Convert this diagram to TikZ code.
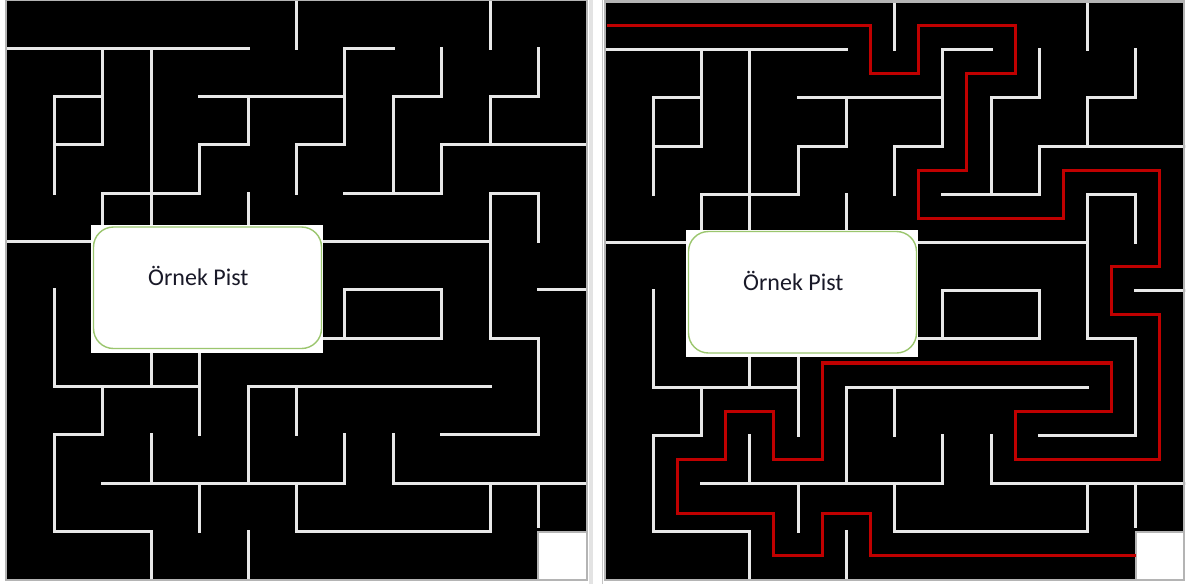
\documentclass[tikz,border=0pt]{standalone}
\usepackage{fontspec}
\newfontfamily\calib{Carlito}
\definecolor{wallc}{RGB}{232,232,232}
\definecolor{bordc}{RGB}{180,180,180}
\definecolor{pathred}{RGB}{192,0,0}
\definecolor{boxgreen}{RGB}{155,198,110}
\definecolor{textc}{RGB}{25,25,40}
\tikzset{
  wall/.style={draw=wallc, line width=3pt, line cap=rect},
  mazeborder/.style={draw=bordc, line width=2.6pt},
  goalcell/.style={fill=white, draw=bordc, line width=2pt},
  redpath/.style={draw=pathred, line width=3.2pt, line join=miter},
  boxback/.style={fill=white},
  boxframe/.style={draw=boxgreen, line width=1.4pt, rounded corners=20pt},
  boxtext/.style={font=\calib\fontsize{24}{28}\selectfont, text=textc, inner sep=0pt, anchor=base west}
}
\newcommand\drawmaze{%
  \fill[black] (0,0) rectangle (12,12);
  \fill[white] (11,11) rectangle (12,12);
  \foreach \r/\a/\b in {1/0/5, 1/7/8, 2/1/2, 2/4/7, 2/8/9, 2/10/11, 3/1/2, 3/4/5, 3/6/7, 3/9/12,
      4/2/4, 4/7/9, 4/10/11, 5/0/10, 6/7/9, 6/11/12, 7/6/9, 7/10/11, 8/1/4, 8/5/10,
      9/1/2, 9/9/11, 10/2/7, 10/8/12, 11/1/3, 11/6/10}
    {\draw[wall] (\a,\r) -- (\b,\r);}
  \foreach \c/\a/\b in {1/2/4, 1/6/8, 1/9/11, 2/1/3, 2/4/5, 2/8/9, 3/1/5, 3/7/8, 3/9/10, 3/11/12,
      4/3/4, 4/7/9, 4/10/11, 5/2/3, 5/4/5, 5/8/10, 5/11/12, 6/0/1, 6/3/4, 6/8/9, 6/10/11,
      7/1/3, 7/6/7, 7/9/10, 8/2/4, 8/9/10, 9/1/2, 9/3/4, 9/6/7, 10/0/1, 10/2/3, 10/4/7,
      10/10/11, 11/1/2, 11/4/5, 11/7/9, 11/10/10.9}
    {\draw[wall] (\c,\a) -- (\c,\b);}
  \draw[goalcell] (11,11) rectangle (12,12);
  \draw[mazeborder] (0,0) rectangle (12,12);
}
\begin{document}
\begin{tikzpicture}[x=1pt,y=-1pt]
\useasboundingbox (0,0) rectangle (1190,584);
\fill[white] (0,0) rectangle (1190,584);
% gap between the two pictures
\fill[gray!22] (589,0) rectangle (593,584);
\draw[gray!45, line width=1pt] (602.5,0) -- (602.5,584);
% left maze
\begin{scope}[shift={(6,0)}, x={(48.4pt,0pt)}, y={(0pt,-48.33pt)}]
  \drawmaze
\end{scope}
\fill[boxback] (91,225) rectangle (323,353);
\draw[boxframe] (93.5,227) rectangle (321.5,348.5);
\node[boxtext] (txtL) at (148,285) {Örnek Pist};
% right maze
\begin{scope}[shift={(605,1.5)}, x={(48.25pt,0pt)}, y={(0pt,-48.2pt)}]
  \drawmaze
  \coordinate (pstart) at (0.05,0.5);
  \coordinate (pend) at (11,11.5);
  \draw[redpath] (pstart) -- (5.5,0.5) -- (5.5,1.5) -- (6.5,1.5) -- (6.5,0.5) -- (8.5,0.5)
    -- (8.5,1.5) -- (7.5,1.5) -- (7.5,3.5) -- (6.5,3.5) -- (6.5,4.5) -- (9.5,4.5)
    -- (9.5,3.5) -- (11.5,3.5) -- (11.5,5.5) -- (10.5,5.5) -- (10.5,6.5) -- (11.5,6.5)
    -- (11.5,9.5) -- (8.5,9.5) -- (8.5,8.5) -- (10.5,8.5) -- (10.5,7.5) -- (4.5,7.5)
    -- (4.5,9.5) -- (3.5,9.5) -- (3.5,8.5) -- (2.5,8.5) -- (2.5,9.5) -- (1.5,9.5)
    -- (1.5,10.62) -- (3.5,10.62) -- (3.5,11.5) -- (4.5,11.5) -- (4.5,10.62) -- (5.5,10.62)
    -- (5.5,11.5) -- (pend);
\end{scope}
\fill[boxback] (686,230) rectangle (918,357);
\draw[boxframe] (688.5,231.5) rectangle (916.5,353);
\node[boxtext] (txtR) at (743,290) {Örnek Pist};
\end{tikzpicture}
\end{document}
